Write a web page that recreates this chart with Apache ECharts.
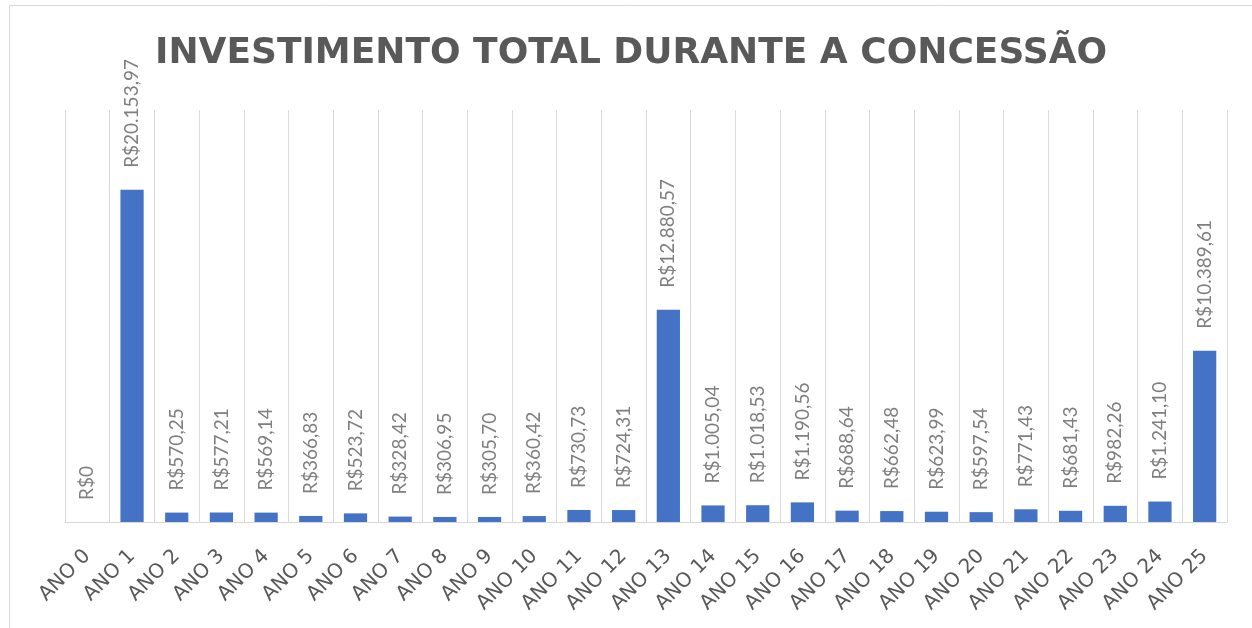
<!DOCTYPE html>
<html><head><meta charset="utf-8">
<script src="https://cdn.jsdelivr.net/npm/echarts@6/dist/echarts.min.js"></script>
<style>html,body{margin:0;padding:0;background:#fff}#c{width:1252px;height:628px}</style>
</head><body><div id="c"></div>
<script>
const titleText = 'INVESTIMENTO TOTAL DURANTE A CONCESSÃO';
const categories = ['ANO 0','ANO 1','ANO 2','ANO 3','ANO 4','ANO 5','ANO 6','ANO 7','ANO 8','ANO 9','ANO 10','ANO 11','ANO 12','ANO 13','ANO 14','ANO 15','ANO 16','ANO 17','ANO 18','ANO 19','ANO 20','ANO 21','ANO 22','ANO 23','ANO 24','ANO 25'];
const investimento = [0, 20153.97, 570.25, 577.21, 569.14, 366.83, 523.72, 328.42, 306.95, 305.70, 360.42, 730.73, 724.31, 12880.57, 1005.04, 1018.53, 1190.56, 688.64, 662.48, 623.99, 597.54, 771.43, 681.43, 982.26, 1241.10, 10389.61];

function fmtBRL(v) {
  if (v === 0) return 'R$0';
  const parts = v.toFixed(2).split('.');
  const int = parts[0].replace(/\B(?=(\d{3})+(?!\d))/g, '.');
  return 'R$' + int + ',' + parts[1];
}

const chart = echarts.init(document.getElementById('c'), null, {renderer: 'canvas'});
chart.setOption({
  animation: false,
  backgroundColor: '#ffffff',
  title: {
    text: titleText,
    left: 150,
    top: 31,
    textStyle: {fontFamily: 'DejaVu Sans', fontWeight: 'bold', fontSize: 36, color: '#595959'}
  },
  graphic: [
    {type: 'line', shape: {x1: 9.5, y1: 5.5, x2: 1252, y2: 5.5}, style: {stroke: '#d9d9d9', lineWidth: 1}},
    {type: 'line', shape: {x1: 9.5, y1: 5.5, x2: 9.5, y2: 628}, style: {stroke: '#d9d9d9', lineWidth: 1}}
  ],
  grid: {left: 65, right: 25, top: 110, bottom: 106, containLabel: false},
  xAxis: {
    type: 'category',
    data: categories,
    boundaryGap: true,
    axisLine: {show: true, lineStyle: {color: '#d9d9d9', width: 1}},
    axisTick: {show: false},
    splitLine: {show: true, lineStyle: {color: '#d9d9d9', width: 1}},
    axisLabel: {rotate: 45, interval: 0, margin: 31, color: '#595959', fontSize: 20, fontFamily: 'DejaVu Sans'}
  },
  yAxis: {
    type: 'value', min: 0, max: 25000, show: false,
    splitLine: {show: false}
  },
  series: [{
    type: 'bar',
    data: investimento,
    barWidth: '52%',
    itemStyle: {color: '#4472c4'},
    label: {
      show: true, position: 'top', rotate: 90, align: 'left', verticalAlign: 'middle',
      distance: 22, color: '#7f7f7f', fontSize: 19, fontFamily: 'Lato',
      formatter: p => fmtBRL(p.value)
    }
  }]
});
</script></body></html>
